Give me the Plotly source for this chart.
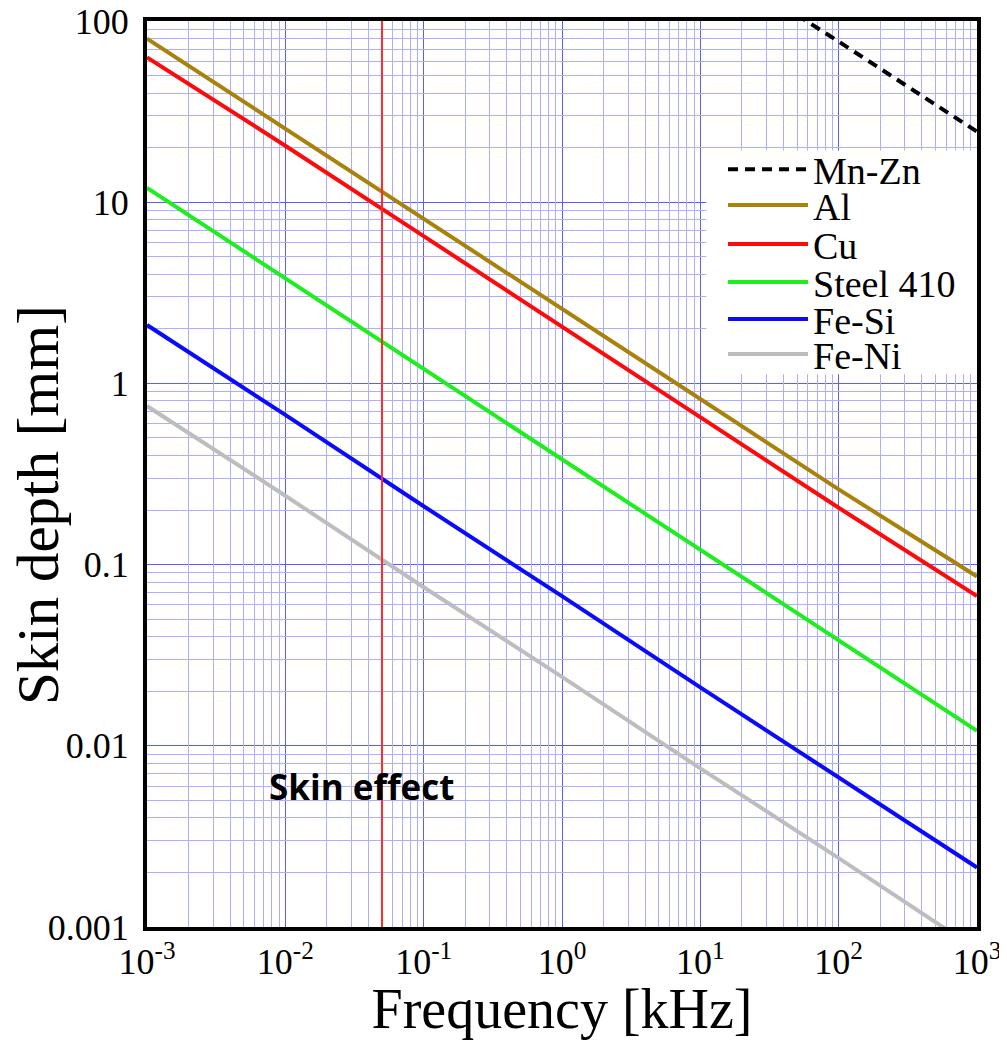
import plotly.graph_objects as go

# ---- data ----
freq_khz = [0.001, 0.01, 0.1, 1, 10, 100, 1000]
al_mm = [80, 25.5, 8.1, 2.6, 0.82, 0.26, 0.086]
cu_mm = [63, 20.5, 6.5, 2.06, 0.65, 0.206, 0.067]
steel410_mm = [12, 3.8, 1.2, 0.38, 0.12, 0.038, 0.0121]
fesi_mm = [2.1, 0.67, 0.21, 0.067, 0.021, 0.0067, 0.00213]
feni_mm = [0.75, 0.24, 0.075, 0.024, 0.0075, 0.0024, 0.00075]
mnzn_freq_khz = [50, 100, 1000]
mnzn_mm = [108, 77, 24.5]

mains_freq_khz = 0.05
y_span = [0.001, 100]

series_names = ["Mn-Zn", "Al", "Cu", "Steel 410", "Fe-Si", "Fe-Ni"]
series_x = [mnzn_freq_khz, freq_khz, freq_khz, freq_khz, freq_khz, freq_khz]
series_y = [mnzn_mm, al_mm, cu_mm, steel410_mm, fesi_mm, feni_mm]
series_colors = ["#000000", "#a8820a", "#ff0a0a", "#1eee1e", "#0a0aff", "#bdbdbd"]
series_dash = ["10px,7px", "solid", "solid", "solid", "solid", "solid"]

x_tickvals = [1e-3, 1e-2, 1e-1, 1, 10, 100, 1000]
x_ticktext = ["10<sup>-3</sup>", "10<sup>-2</sup>", "10<sup>-1</sup>", "10<sup>0</sup>",
              "10<sup>1</sup>", "10<sup>2</sup>", "10<sup>3</sup>"]
y_tickvals = [0.001, 0.01, 0.1, 1, 10, 100]
y_ticktext = ["0.001", "0.01", "0.1", "1", "10", "100"]

# legend row positions (paper y) for each entry
legend_rows_y = [0.836, 0.7966, 0.7536, 0.7116, 0.6708, 0.6321]


def minor_vals(lo_exp, hi_exp):
    vals = []
    for e in range(lo_exp, hi_exp):
        for m in range(2, 10):
            vals.append(m * 10 ** e)
    return vals


fig = go.Figure()

serif = "Liberation Serif"
legend_layout = {}
for i, (name, xs, ys, col, dsh) in enumerate(zip(series_names, series_x, series_y,
                                                 series_colors, series_dash)):
    key = "legend" if i == 0 else f"legend{i + 1}"
    fig.add_trace(go.Scatter(x=xs, y=ys, mode="lines", name=name, legend=key,
                             line=dict(color=col, width=4, dash=dsh)))
    legend_layout[key] = dict(x=0.694, y=legend_rows_y[i], xanchor="left", yanchor="middle",
                              bgcolor="rgba(0,0,0,0)", borderwidth=0, itemwidth=80,
                              font=dict(family=serif, size=38, color="black"))

# vertical mains-frequency line (on the overlay axes, which carry the fine grid)
fig.add_trace(go.Scatter(x=[mains_freq_khz, mains_freq_khz], y=y_span, mode="lines",
                         xaxis="x2", yaxis="y2",
                         line=dict(color="#ff2a2a", width=2),
                         showlegend=False, hoverinfo="skip"))

axis_common = dict(
    showline=True, linecolor="black", linewidth=4, mirror=True,
    ticks="", showgrid=True, gridcolor="#5c5cff", gridwidth=1,
    zeroline=False, automargin=False, ticklabeloverflow="allow",
    tickfont=dict(family=serif, size=36, color="black"),
)
minor_axis_common = dict(
    type="log", showline=False, ticks="", showticklabels=False, zeroline=False,
    showgrid=True, gridcolor="#aeaeff", gridwidth=1, automargin=False,
    tickmode="array",
)

fig.update_layout(
    xaxis=dict(type="log", range=[-3, 3], tickmode="array",
               tickvals=x_tickvals, ticktext=x_ticktext,
               title=dict(text="Frequency [kHz]",
                          font=dict(family=serif, size=56, color="black"), standoff=0),
               **axis_common),
    yaxis=dict(type="log", range=[-3, 2], tickmode="array",
               tickvals=y_tickvals, ticktext=y_ticktext, ticklabelstandoff=7,
               **axis_common),
    # fainter grid lines between the decades
    xaxis2=dict(overlaying="x", anchor="y2", range=[-3, 3], tickvals=minor_vals(-3, 3),
                **minor_axis_common),
    yaxis2=dict(overlaying="y", anchor="x2", range=[-3, 2], tickvals=minor_vals(-3, 2),
                **minor_axis_common),
)

# y-axis title (placed as rotated text, slightly below the plot centre like the reference)
fig.add_annotation(x=-0.131, y=0.466, xref="paper", yref="paper", text="Skin depth [mm]",
                   textangle=-90, showarrow=False, xanchor="center", yanchor="middle",
                   borderpad=0, font=dict(family=serif, size=59, color="black"))

fig.add_annotation(x=-1.446, y=-2.222, xref="x", yref="y", text="<b>Skin effect</b>",
                   showarrow=False, font=dict(family="Open Sans", size=35, color="black"))

# white backing of the legend box
fig.add_shape(type="rect", xref="paper", yref="paper", x0=0.674, x1=1.0, y0=0.610, y1=0.857,
              fillcolor="white", line=dict(width=0), layer="above")

# the page adds an 8px body margin, so the figure is drawn 8px smaller and offset
fig.update_layout(
    width=999, height=1032,
    margin=dict(l=139, r=30, t=13, b=113),
    paper_bgcolor="white", plot_bgcolor="white",
    showlegend=True,
    **legend_layout,
)

fig.write_html("out.html")
